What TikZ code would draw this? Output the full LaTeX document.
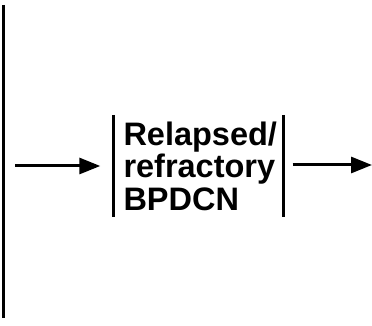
\documentclass[tikz,border=0pt]{standalone}
\usepackage{fontspec}
\setmainfont{Liberation Sans}
\usetikzlibrary{arrows.meta,positioning}

\begin{document}
\begin{tikzpicture}[
    x=1pt, y=1pt,
    stage/.style={rectangle, text width=150pt, inner xsep=10pt, minimum height=102pt, align=left,
        font=\fontsize{32.5}{32.5}\selectfont\bfseries},
    flow/.style={-{Triangle[length=21pt,width=16pt]}, line width=3pt},
    bar/.style={line width=3pt}
]
    \useasboundingbox (0,0) rectangle (372,326);

    % left bracket line
    \coordinate (top) at (3.5,321);
    \coordinate (bottom) at (3.5,8);
    \draw[bar] (top) -- (bottom);

    \node[stage] (relapsed) at (198.5,160) {Relapsed/\\refractory\\BPDCN};
    \draw[bar] (relapsed.north west) -- (relapsed.south west);
    \draw[bar] (relapsed.north east) -- (relapsed.south east);

    \coordinate (start) at (15,160);
    \coordinate (exit) at (372,161);
    \draw[flow] (start) -- ([xshift=-13pt]relapsed.west);
    \draw[flow] ([xshift=9pt]relapsed.east |- exit) -- (exit);
\end{tikzpicture}
\end{document}
